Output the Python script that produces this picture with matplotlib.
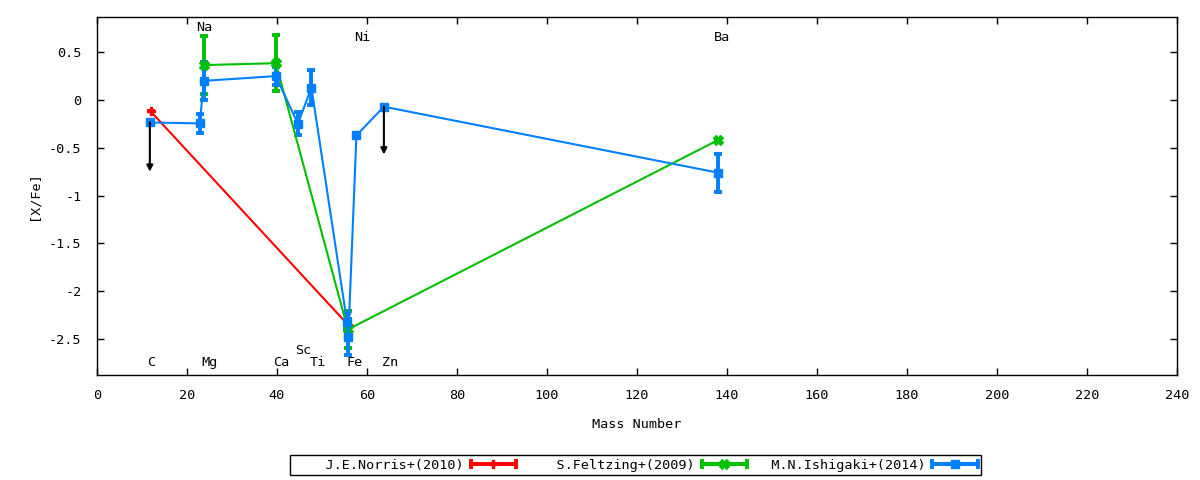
import matplotlib
matplotlib.use("Agg")
import matplotlib.pyplot as plt
from matplotlib.lines import Line2D
from matplotlib.legend_handler import HandlerLine2D, HandlerTuple

plt.rcParams["font.family"] = ["DejaVu Sans Mono"]
plt.rcParams["font.size"] = 9.7

# J.E.Norris+(2010)
norris_x = [12.0, 56.0]
norris_y = [-0.12, -2.36]

# S.Feltzing+(2009)
feltzing_x = [23.8, 39.8, 55.8, 138.0]
feltzing_y = [0.365, 0.385, -2.40, -0.42]
feltzing_err = [0.30, 0.29, 0.19, 0.0]

# M.N.Ishigaki+(2014)
ishigaki_x = [11.8, 22.9, 23.8, 39.8, 44.7, 47.7, 55.6, 55.9, 57.7, 63.8, 138.0]
ishigaki_y = [-0.235, -0.245, 0.20, 0.25, -0.25, 0.13, -2.32, -2.48, -0.37, -0.07, -0.76]
ishigaki_err = [0.0, 0.10, 0.20, 0.09, 0.12, 0.18, 0.09, 0.19, 0.0, 0.0, 0.20]

# upper limits drawn as arrows (x, from, to)
limit_x = [11.8, 63.8]
limit_from = [-0.235, -0.07]
limit_to = [-0.75, -0.57]

# element labels
elem_names = ["C", "Mg", "Ca", "Sc", "Ti", "Fe", "Zn", "Na", "Ni", "Ba"]
elem_x = [12.1, 25.1, 41.0, 45.9, 49.2, 57.2, 65.1, 24.0, 59.0, 139.0]
elem_y = [-2.75, -2.75, -2.75, -2.62, -2.75, -2.75, -2.75, 0.76, 0.655, 0.655]

labels = ["J.E.Norris+(2010)", "S.Feltzing+(2009)", "M.N.Ishigaki+(2014)"]

red = "#ff0000"
green = "#00c000"
blue = "#0080ff"

fig = plt.figure(figsize=(12, 4.8), dpi=100)
ax = fig.add_axes([0.0806, 0.219, 0.9002, 0.745])

ebkw = dict(lw=1.5, elinewidth=2.8, capsize=2.6, capthick=2.8)

ax.errorbar(norris_x, norris_y, yerr=0, color=red, marker="P", ms=6, **ebkw)
ax.errorbar(feltzing_x, feltzing_y, yerr=feltzing_err, color=green, marker="X",
            ms=6.5, **ebkw)
ax.errorbar(ishigaki_x, ishigaki_y, yerr=ishigaki_err, color=blue, marker="s",
            ms=5.5, **ebkw)

for x, y0, y1 in zip(limit_x, limit_from, limit_to):
    ax.annotate("", xy=(x, y1), xytext=(x, y0),
                arrowprops=dict(arrowstyle="-|>", color="black", lw=1.5,
                                mutation_scale=9, shrinkA=0, shrinkB=0))

for name, x, y in zip(elem_names, elem_x, elem_y):
    ax.text(x, y, name, ha="center", va="center")

ax.set_xlim(0, 240)
ax.set_ylim(-2.875, 0.865)
ax.set_xticks(range(0, 241, 20))
ax.set_yticks([0.5, 0, -0.5, -1, -1.5, -2, -2.5])
ax.set_yticklabels(["0.5", "0", "-0.5", "-1", "-1.5", "-2", "-2.5"])
ax.tick_params(direction="in", top=True, right=True, length=5, width=1)
ax.tick_params(axis="x", pad=10)
ax.tick_params(axis="y", pad=11)
for s in ax.spines.values():
    s.set_linewidth(1)

ax.set_xlabel("Mass Number", labelpad=12)
ax.set_ylabel("[X/Fe]", labelpad=6)


def make_handle(color, marker, ms):
    caps = Line2D([], [], color=color, lw=2.8, marker="|", ms=7, mew=2.8)
    mark = Line2D([], [], color=color, lw=2.8, marker=marker, ms=ms)
    return (caps, mark)


handles = [make_handle(red, "P", 6), make_handle(green, "X", 6.5),
           make_handle(blue, "s", 5.5)]
hmap = {tuple: HandlerTuple(ndivide=1)}
for caps, _ in handles:
    hmap[caps] = HandlerLine2D(numpoints=2, marker_pad=0)

# gnuplot right-justifies the key texts
leg_labels = [s.rjust(21) for s in labels]
leg = fig.legend(handles, leg_labels, handler_map=hmap, ncol=3, markerfirst=False,
                 loc="center", bbox_to_anchor=(0.5295, 0.031), fancybox=False,
                 framealpha=1, edgecolor="black", borderpad=0.25,
                 handlelength=3.35, columnspacing=0.6, handletextpad=0.52,
                 numpoints=1)
leg.get_frame().set_linewidth(1)

fig.savefig("out.png", dpi=100)
